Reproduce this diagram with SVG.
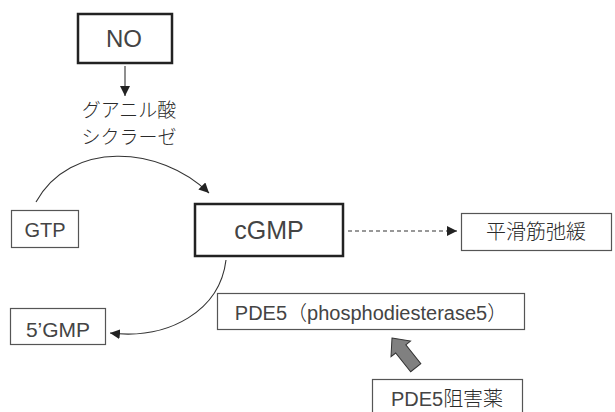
<svg xmlns="http://www.w3.org/2000/svg" width="615" height="412" viewBox="0 0 615 412">
  <style>
    .t { font-family: "Liberation Sans", "Noto Sans CJK JP", sans-serif; fill: #444; text-anchor: middle; }
    .jp { font-family: "Noto Sans CJK JP", sans-serif; font-weight: 300; fill: #2a2a2a; text-anchor: middle; }
    .thick { fill: #fff; stroke: #222; stroke-width: 2.5; }
    .thin { fill: #fff; stroke: #555; stroke-width: 1.2; }
    .link { fill: none; stroke: #333; stroke-width: 1.1; }
  </style>
  <defs>
    <marker id="tri" viewBox="0 0 10 10" refX="10" refY="5" markerWidth="10" markerHeight="10" markerUnits="userSpaceOnUse" orient="auto">
      <path d="M0,0 L10,5 L0,10 Z" fill="#222"/>
    </marker>
  </defs>
  <rect width="615" height="412" fill="#fff"/>

  <!-- connectors -->
  <g id="connectors">
    <line class="link" x1="125" y1="66" x2="125" y2="96" marker-end="url(#tri)"/>
    <path class="link" d="M36,202 C70,140 160,145 209,193" marker-end="url(#tri)"/>
    <path class="link" d="M226,260 C220,310 170,340 110,333" marker-end="url(#tri)"/>
    <line class="link" x1="348" y1="231" x2="457" y2="231" stroke-dasharray="4 3" marker-end="url(#tri)"/>
    <!-- inhibitor block arrow -->
    <polygon points="0,0 12.5,14 6.5,14 6.5,38 -6.5,38 -6.5,14 -12.5,14" transform="translate(392,338) rotate(-38.7)" fill="#808080" stroke="#333" stroke-width="1"/>
  </g>

  <g id="no">
    <rect class="thick" x="78" y="14" width="94" height="49"/>
    <text class="t" x="124" y="47" font-size="24">NO</text>
  </g>

  <g id="guanylate-cyclase">
    <text class="jp" x="129" y="117" font-size="19">グアニル酸</text>
    <text class="jp" x="129" y="144" font-size="19">シクラーゼ</text>
  </g>

  <g id="gtp">
    <rect class="thin" x="11.5" y="210.5" width="67" height="37"/>
    <text class="t" x="45" y="237" font-size="20">GTP</text>
  </g>

  <g id="cgmp">
    <rect class="thick" x="195" y="204" width="148" height="52"/>
    <text class="t" x="269" y="239" font-size="25">cGMP</text>
  </g>

  <g id="relaxation">
    <rect class="thin" x="461.5" y="213.5" width="150" height="37"/>
    <text class="jp" x="536" y="239" font-size="20">平滑筋弛緩</text>
  </g>

  <g id="gmp5">
    <rect class="thin" x="10.5" y="308.5" width="95" height="36"/>
    <text class="t" x="58" y="337" font-size="21">5’GMP</text>
  </g>

  <g id="pde5">
    <rect class="thin" x="217.5" y="293.5" width="307" height="36"/>
    <text class="t" x="371" y="320" font-size="20">PDE5<tspan class="jp" style="text-anchor:start">（</tspan>phosphodiesterase5<tspan class="jp" style="text-anchor:start">）</tspan></text>
  </g>

  <g id="pde5-inhibitor">
    <rect class="thin" x="372.5" y="379.5" width="150" height="40"/>
    <text class="t" x="447" y="406" font-size="20">PDE5<tspan class="jp" style="text-anchor:start">阻害薬</tspan></text>
  </g>
</svg>
